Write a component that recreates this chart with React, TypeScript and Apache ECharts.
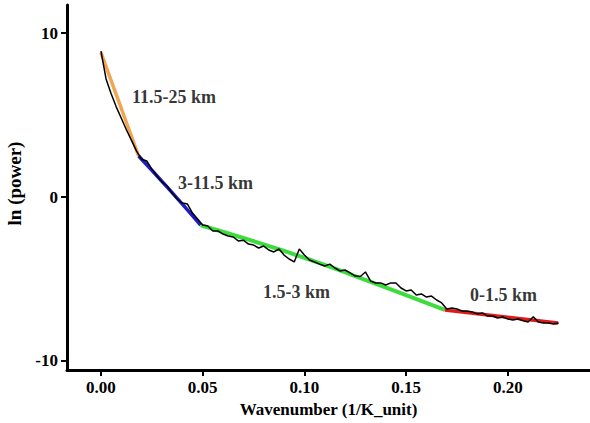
import React, { useEffect, useRef } from "react";
import * as echarts from "echarts";

const STEP = 0.0025;
const spectrum = [
  8.9, 7.2, 6.3, 5.5, 4.8, 4.1, 3.45, 2.8, 2.3, 2.2,
  1.7, 1.28, 0.91, 0.67, 0.24, -0.12, -0.37, -0.43, -0.98, -1.34,
  -1.71, -1.77, -2.07, -2.07, -2.26, -2.38, -2.44, -2.68, -2.63, -2.87,
  -2.93, -3.11, -2.99, -3.23, -3.35, -3.17, -3.54, -3.78, -3.96, -3.17,
  -3.54, -3.84, -3.96, -4.09, -4.21, -4.09, -4.33, -4.51, -4.45, -4.63,
  -4.82, -4.85, -4.57, -5.12, -5.24, -5.24, -5.37, -5.24, -5.24, -5.55,
  -5.73, -5.67, -5.98, -5.91, -6.10, -6.04, -6.28, -6.46, -6.83, -6.77,
  -6.83, -6.95, -6.95, -7.01, -7.13, -7.07, -7.26, -7.26, -7.38, -7.32,
  -7.44, -7.50, -7.44, -7.55, -7.62, -7.30, -7.62, -7.68, -7.68, -7.74,
  -7.68,
];

const fitOrange = [[0, 8.8], [0.0185, 2.5]];
const fitBlue = [[0.0185, 2.5], [0.034, 0.4], [0.049, -1.72]];
const fitGreen = [[0.049, -1.72], [0.0885, -3.23], [0.123, -4.73], [0.169, -6.89]];
const fitRed = [[0.169, -6.89], [0.2247, -7.68]];

const annotations = [
  { x: 0.0152, y: 6.1, text: "11.5-25 km" },
  { x: 0.0379, y: 0.85, text: "3-11.5 km" },
  { x: 0.0796, y: -5.79, text: "1.5-3 km" },
  { x: 0.1814, y: -5.98, text: "0-1.5 km" },
];

const xTicks = [0, 0.05, 0.1, 0.15, 0.2];
const yTicks = [-10, 0, 10];

const FONT = "Liberation Serif";

export default function App() {
  const ref = useRef<HTMLDivElement>(null);
  useEffect(() => {
    if (!ref.current) return;
    const chart = echarts.init(ref.current, undefined, { renderer: "svg" });
    const trace = spectrum.map((v, i) => [i * STEP, v]);
    const axisCommon = {
      axisLine: { show: true, onZero: false, lineStyle: { color: "#000", width: 3 } },
      axisTick: { show: true, length: 6, lineStyle: { color: "#000", width: 2 } },
      splitLine: { show: false },
    };
    chart.setOption({
      animation: false,
      backgroundColor: "#fff",
      grid: { left: 67, right: 0, top: 5, bottom: 53, containLabel: false, outerBoundsMode: "none" },
      xAxis: {
        type: "value",
        min: -0.0167,
        max: 0.2404,
        ...axisCommon,
        axisTick: { ...axisCommon.axisTick, customValues: xTicks },
        axisLabel: {
          customValues: xTicks,
          formatter: (v: number) => v.toFixed(2),
          color: "#000",
          fontFamily: FONT,
          fontWeight: "bold",
          fontSize: 17,
          margin: 9,
        },
        name: "Wavenumber (1/K_unit)",
        nameLocation: "middle",
        nameGap: 30,
        nameTextStyle: { color: "#000", fontFamily: FONT, fontWeight: "bold", fontSize: 17 },
      },
      yAxis: {
        type: "value",
        min: -10.55,
        max: 11.71,
        ...axisCommon,
        axisTick: { ...axisCommon.axisTick, customValues: yTicks },
        axisLabel: {
          customValues: yTicks,
          formatter: (v: number) => String(v),
          color: "#000",
          fontFamily: FONT,
          fontWeight: "bold",
          fontSize: 17,
          margin: 9,
        },
        name: "ln (power)",
        nameLocation: "middle",
        nameGap: 34,
        nameTextStyle: { color: "#000", fontFamily: FONT, fontWeight: "bold", fontSize: 19, padding: [0, 0, 0, 8] },
      },
      series: [
        { type: "line", data: fitOrange, showSymbol: false, lineStyle: { color: "#F2A551", width: 3.5 }, z: 2 },
        { type: "line", data: fitBlue, showSymbol: false, smooth: true, lineStyle: { color: "#1C1CC8", width: 3.5 }, z: 2 },
        { type: "line", data: fitGreen, showSymbol: false, smooth: true, lineStyle: { color: "#3DDC3D", width: 4 }, z: 2 },
        { type: "line", data: fitRed, showSymbol: false, lineStyle: { color: "#E01A1A", width: 3.5 }, z: 2 },
        { type: "line", data: trace, showSymbol: false, lineStyle: { color: "#000", width: 1.5 }, z: 3 },
        {
          type: "scatter",
          symbolSize: 0,
          data: annotations.map((a) => ({ value: [a.x, a.y], name: a.text })),
          label: {
            show: true,
            position: "right",
            distance: 0,
            formatter: (p: any) => p.name,
            color: "#000",
            fontFamily: FONT,
            fontWeight: "bold",
            fontSize: 18,
          },
          z: 4,
          silent: true,
        },
      ],
    });
    return () => chart.dispose();
  }, []);
  return (
    <div
      ref={ref}
      style={{ position: "absolute", left: 0, top: 0, width: 590, height: 423 }}
    />
  );
}
